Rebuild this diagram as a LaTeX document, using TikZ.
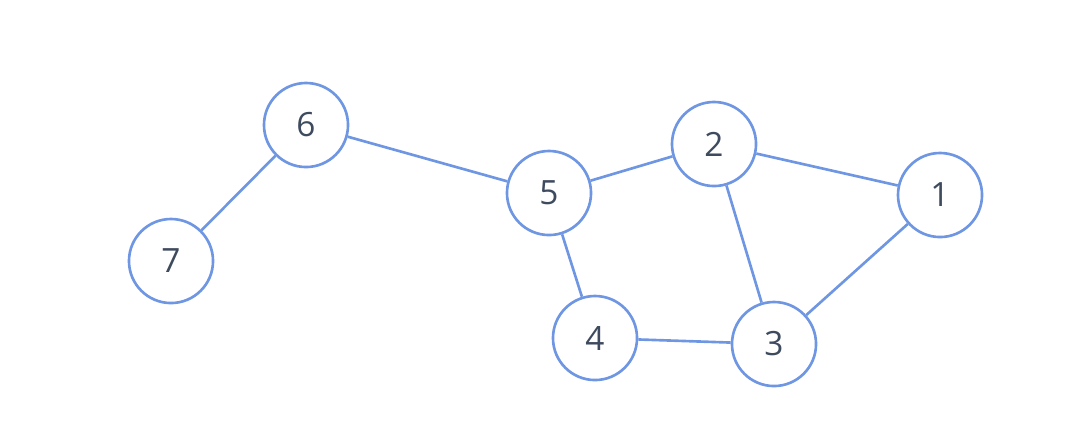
\documentclass[tikz,border=0pt]{standalone}
\usepackage{fontspec}
\setmainfont{Open Sans}
\definecolor{edgeblue}{HTML}{6E96E2}
\definecolor{numcol}{HTML}{3E4A5E}
\begin{document}
\begin{tikzpicture}[x=0.01cm,y=-0.01cm,
  vtx/.style={circle,draw=edgeblue,line width=0.75pt,fill=white,minimum size=0.84cm,inner sep=0pt,text=numcol,font=\fontsize{9.5}{11}\selectfont},
  edge/.style={draw=edgeblue,line width=0.75pt}]
\useasboundingbox (0,0) rectangle (1080,423);
\node[vtx] (n6) at (306,125) {6};
\node[vtx] (n7) at (171,261) {7};
\node[vtx] (n5) at (549,193) {5};
\node[vtx] (n2) at (714,144) {2};
\node[vtx] (n1) at (940,195) {1};
\node[vtx] (n4) at (595,338) {4};
\node[vtx] (n3) at (774,344) {3};
\draw[edge] (n6) -- (n7);
\draw[edge] (n6) -- (n5);
\draw[edge] (n5) -- (n2);
\draw[edge] (n5) -- (n4);
\draw[edge] (n2) -- (n1);
\draw[edge] (n2) -- (n3);
\draw[edge] (n1) -- (n3);
\draw[edge] (n4) -- (n3);
\end{tikzpicture}
\end{document}
